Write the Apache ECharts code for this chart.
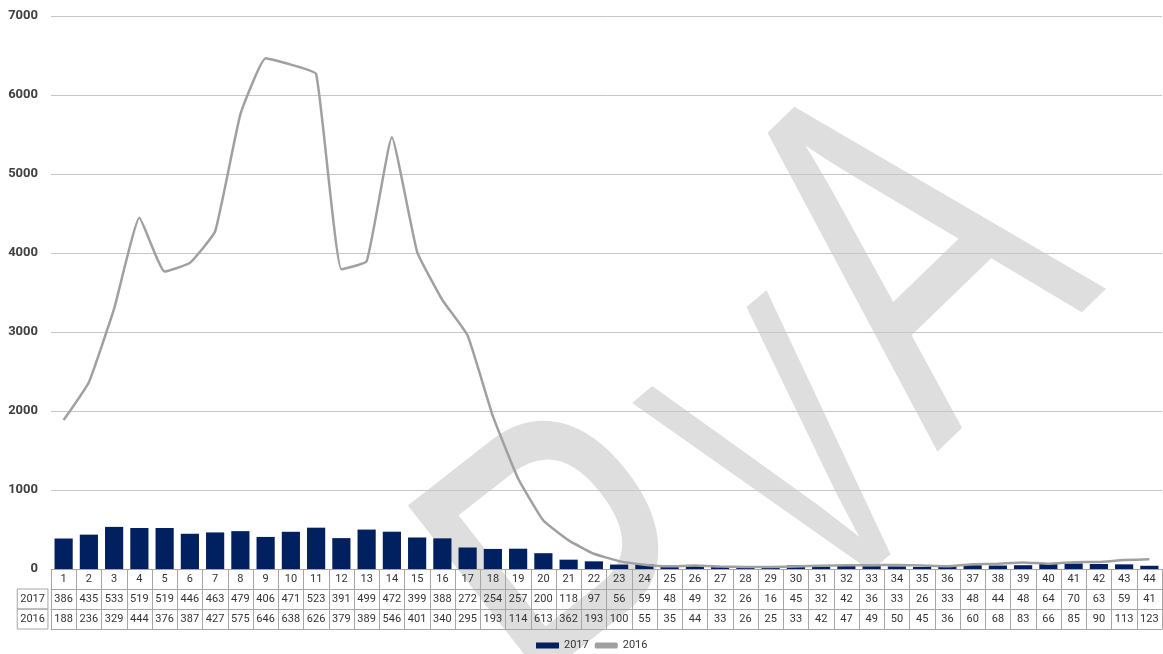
<!DOCTYPE html>
<html>
<head>
<meta charset="utf-8">
<script src="https://cdn.jsdelivr.net/npm/echarts@6/dist/echarts.min.js"></script>
<style>
  html, body { margin: 0; padding: 0; background: #fff; }
  #chart { width: 1163px; height: 654px; }
</style>
</head>
<body>
<div id="chart"></div>
<script>
// week numbers
const weeks = [];
for (let w = 1; w <= 44; w++) weeks.push(String(w));

const values2017 = [386, 435, 533, 519, 519, 446, 463, 479, 406, 471, 523, 391, 499, 472, 399, 388,
    272, 254, 257, 200, 118, 97, 56, 59, 48, 49, 32, 26, 16, 45, 32, 42, 36, 33, 26, 33, 48, 44,
    48, 64, 70, 63, 59, 41];

const values2016 = [1885, 2365, 3295, 4445, 3765, 3875, 4275, 5755, 6465, 6385, 6265, 3795, 3895,
    5465, 4015, 3405, 2955, 1935, 1145, 613, 362, 193, 100, 55, 35, 44, 33, 26, 25, 33, 42, 47,
    49, 50, 45, 36, 60, 68, 83, 66, 85, 90, 113, 123];

const yTicks = {min: 0, max: 7000, interval: 1000};

// the source table only shows the first three digits of each value
const table2016 = values2016.map(v => String(v).slice(0, 3));

const border = '#a6a6a6';
const cellFont = {fontFamily: 'Roboto', fontSize: 11, color: '#333'};

function tableAxis(data, offset, name){
    return {
        type: 'category',
        data: data,
        position: 'bottom',
        offset: offset,
        axisLine: {show: true, lineStyle: {color: border, width: 1}},
        axisTick: {show: true, interval: 0, length: 20, lineStyle: {color: border}},
        axisLabel: Object.assign({show: true, interval: 0, margin: 5}, cellFont),
        splitLine: {show: false},
        name: name,
        nameLocation: 'start',
        nameGap: 0,
        nameTextStyle: Object.assign({
            align: 'right',
            verticalAlign: 'top',
            borderColor: border,
            borderWidth: 1,
            lineHeight: 14,
            padding: [3, 3, 3, 3]
        }, cellFont)
    };
}

// big rotated watermark letters (the "D" of DPVA falls outside the picture)
function mark(ch, x, y, deg, size, sx){
    return {
        type: 'text',
        x: x,
        y: y,
        rotation: deg * Math.PI / 180,
        scaleX: sx,
        z: -10,
        silent: true,
        style: {
            text: ch,
            font: size + 'px "Liberation Sans"',
            fill: '#dedede',
            align: 'center',
            verticalAlign: 'middle'
        }
    };
}

let myChart = echarts.init(document.getElementById('chart'));

let option = {
    backgroundColor: '#fff',
    animation: false,
    grid: {left: 51, right: 1, top: 16, bottom: 85},
    legend: {
        left: 536,
        top: 640,
        padding: 0,
        itemWidth: 23,
        itemHeight: 6,
        itemGap: 6,
        textStyle: {fontFamily: 'Roboto', fontSize: 11, color: '#333'},
        data: [{name: '2017', icon: 'rect'}, {name: '2016', icon: 'roundRect'}]
    },
    graphic: [
        mark('P', 612, 618, 38, 520, 0.7),
        mark('V', 808, 476, 40, 410, 0.65),
        mark('A', 925, 270, 44, 505, 0.7)
    ],
    xAxis: [
        tableAxis(weeks, 0, ''),
        tableAxis(values2017.map(String), 20, '2017'),
        tableAxis(table2016, 40, '2016'),
        {
            type: 'category',
            data: weeks,
            position: 'bottom',
            offset: 60,
            axisLine: {show: true, lineStyle: {color: border}},
            axisTick: {show: false},
            axisLabel: {show: false}
        }
    ],
    yAxis: {
        type: 'value',
        min: yTicks.min,
        max: yTicks.max,
        interval: yTicks.interval,
        axisLine: {show: false},
        axisTick: {show: false},
        axisLabel: {
            fontFamily: 'Roboto', fontSize: 13, fontWeight: 'bold', color: '#404040', margin: 13,
            formatter: v => String(v)
        },
        splitLine: {lineStyle: {color: '#c6c6c6', width: 1}}
    },
    series: [
        {
            name: '2017',
            type: 'bar',
            data: values2017,
            barWidth: '72%',
            itemStyle: {color: '#002060'}
        },
        {
            name: '2016',
            type: 'line',
            data: values2016,
            smooth: 0.12,
            symbol: 'none',
            lineStyle: {color: '#a0a0a0', width: 2.5},
            itemStyle: {color: '#a0a0a0'}
        }
    ]
};

myChart.setOption(option);
</script>
</body>
</html>
